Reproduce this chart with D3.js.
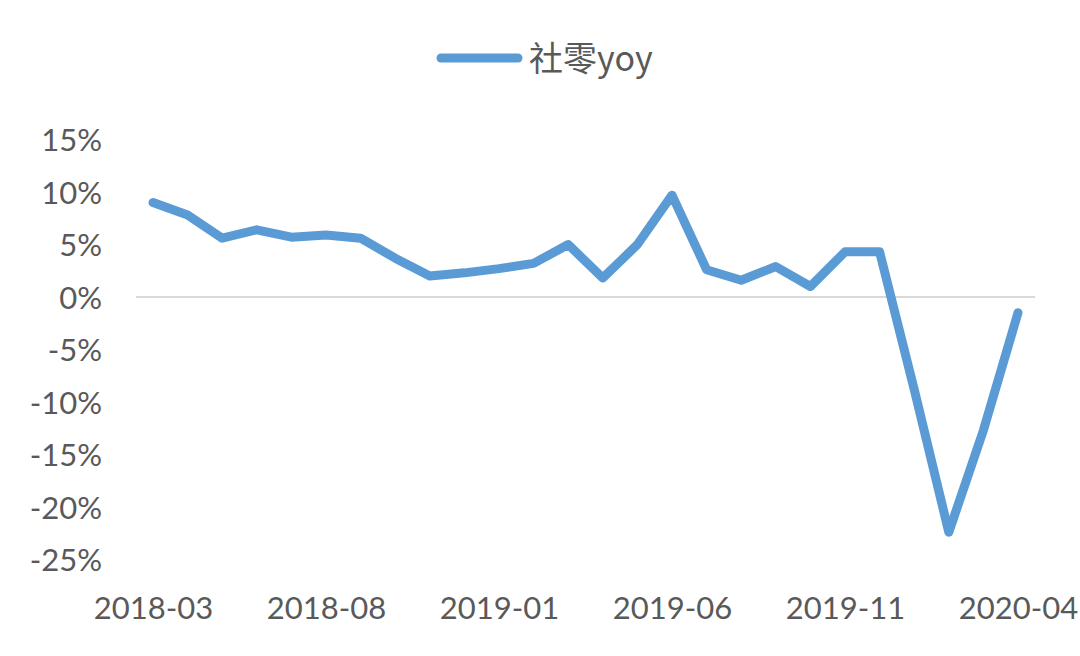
<!DOCTYPE html>
<html><head><meta charset="utf-8">
<script src="https://cdn.jsdelivr.net/npm/d3@7/dist/d3.min.js"></script>
<style>body{margin:0;background:#fff;} svg{display:block;}</style>
</head><body><svg id="c" width="1080" height="656"></svg>
<script>
const months = ["2018-03","2018-04","2018-05","2018-06","2018-07","2018-08","2018-09","2018-10","2018-11","2018-12",
"2019-01","2019-02","2019-03","2019-04","2019-05","2019-06","2019-07","2019-08","2019-09","2019-10",
"2019-11","2019-12","2020-01","2020-02","2020-03","2020-04"];
const yoy = [9.0,7.8,5.6,6.4,5.7,5.9,5.6,3.7,2.0,2.3,2.7,3.2,5.0,1.8,5.0,9.7,2.6,1.6,2.9,1.0,4.3,4.3,-8.8,-22.4,-12.7,-1.5];
const tickLabels = ["2018-03","2018-08","2019-01","2019-06","2019-11","2020-04"];
const yTicks = [15,10,5,0,-5,-10,-15,-20,-25];
const seriesName = "社零yoy";

const svg = d3.select("#c");
const font = "Lato, 'Open Sans', sans-serif";
const x = d3.scalePoint().domain(months).range([153,1018]);
const y = d3.scaleLinear().domain([-25,15]).range([559.5,139.5]);

// zero line
svg.append("line").attr("x1",136).attr("x2",1035).attr("y1",y(0)).attr("y2",y(0))
  .attr("stroke","#d9d9d9").attr("stroke-width",2);

// y axis labels
const yAxis = d3.axisLeft(y).tickValues(yTicks).tickFormat(d=>d+"%").tickSize(0).tickPadding(0);
const gy = svg.append("g").attr("transform","translate(102,0)").call(yAxis);
gy.select(".domain").remove();
gy.selectAll("text").attr("font-family",font).attr("font-size",31).attr("fill","#595959").attr("dy","0.36em");

// x axis labels
const xAxis = d3.axisBottom(x).tickValues(tickLabels).tickSize(0).tickPadding(0);
const gx = svg.append("g").attr("transform","translate(0,590)").call(xAxis);
gx.select(".domain").remove();
gx.selectAll("text").attr("font-family",font).attr("font-size",31).attr("fill","#595959").attr("dy","0.92em");

// line
const line = d3.line().x((d,i)=>x(months[i])).y(d=>y(d));
svg.append("path").datum(yoy).attr("d",line).attr("fill","none")
  .attr("stroke","#5b9bd5").attr("stroke-width",9).attr("stroke-linejoin","round").attr("stroke-linecap","round");

// legend
svg.append("line").attr("x1",441).attr("x2",518).attr("y1",58).attr("y2",58)
  .attr("stroke","#5b9bd5").attr("stroke-width",9).attr("stroke-linecap","round");
svg.append("text").attr("x",529).attr("y",71).text(seriesName)
  .attr("font-family","'Noto Sans CJK SC', "+font).attr("font-size",34).attr("fill","#595959");
</script></body></html>
